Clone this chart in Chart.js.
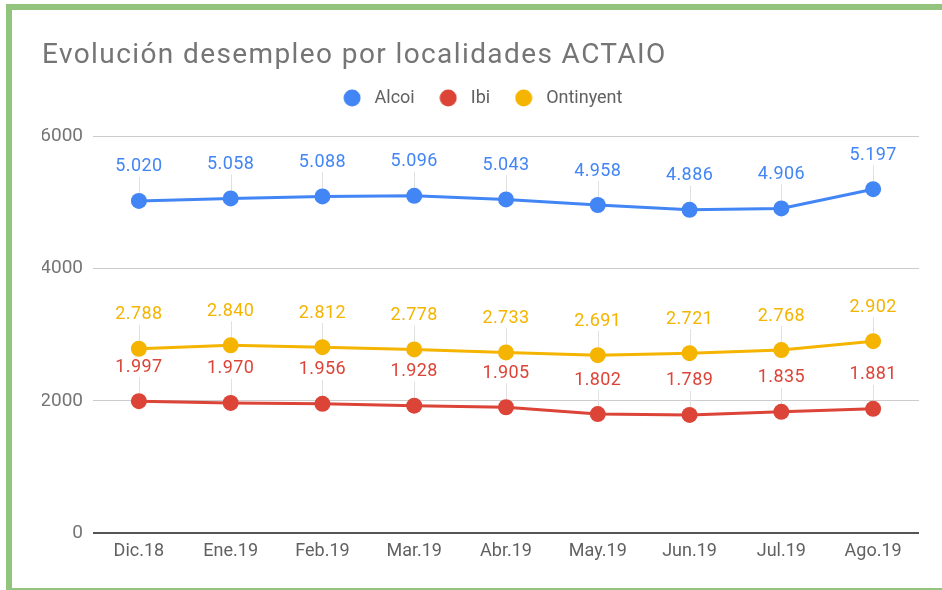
<!DOCTYPE html>
<html>
<head>
<meta charset="utf-8">
<script src="https://cdn.jsdelivr.net/npm/chart.js@4/dist/chart.umd.min.js"></script>
<style>
  html, body { margin: 0; padding: 0; background: #fff; }
  #wrap { position: relative; width: 942px; height: 590px; overflow: hidden; }
  #wrap canvas { position: absolute; left: 0; top: 0; }
  .bd { position: absolute; background: #93c47d; }
</style>
</head>
<body>
<div id="wrap">
  <canvas id="c" width="942" height="590"></canvas>
  <div class="bd" style="left:6px;top:4px;width:936px;height:6px;"></div>
  <div class="bd" style="left:6px;top:4px;width:6px;height:586px;"></div>
  <div class="bd" style="left:6px;top:588px;width:936px;height:2px;"></div>
</div>
<script>
const categories = ["Dic.18","Ene.19","Feb.19","Mar.19","Abr.19","May.19","Jun.19","Jul.19","Ago.19"];
const alcoi = [5020,5058,5088,5096,5043,4958,4886,4906,5197];
const ibi = [1997,1970,1956,1928,1905,1802,1789,1835,1881];
const ontinyent = [2788,2840,2812,2778,2733,2691,2721,2768,2902];
const yTicks = [0,2000,4000,6000];
const titleText = "Evolución desempleo por localidades ACTAIO";

const FONT = "Roboto";

function fmt(v) {
  return String(v).replace(/\B(?=(\d{3})+(?!\d))/g, ".");
}

function circleImg(color) {
  const c = document.createElement('canvas');
  c.width = 18; c.height = 18;
  const x = c.getContext('2d');
  x.fillStyle = color;
  x.beginPath();
  x.arc(9, 9, 8.5, 0, Math.PI * 2);
  x.fill();
  return c;
}

const titlePlugin = {
  id: 'ownTitle',
  afterDraw(chart) {
    const ctx = chart.ctx;
    ctx.save();
    ctx.font = "28px " + FONT;
    ctx.fillStyle = '#757575';
    ctx.textAlign = 'left';
    ctx.textBaseline = 'alphabetic';
    ctx.letterSpacing = '1.4px';
    ctx.fillText(titleText, 42, 63);
    ctx.restore();
  }
};

const legendSpace = {
  id: 'legendSpace',
  beforeInit(chart) {
    const orig = chart.legend.fit;
    chart.legend.fit = function () {
      orig.call(this);
      this.height += 19;
    };
  }
};

const labelPlugin = {
  id: 'pointLabels',
  beforeDatasetsDraw(chart) {
    const ctx = chart.ctx;
    ctx.save();
    ctx.strokeStyle = '#e0e0e0';
    ctx.lineWidth = 1;
    chart.data.datasets.forEach((ds, i) => {
      const meta = chart.getDatasetMeta(i);
      meta.data.forEach(pt => {
        ctx.beginPath();
        ctx.moveTo(Math.round(pt.x) + 0.5, pt.y - 24);
        ctx.lineTo(Math.round(pt.x) + 0.5, pt.y);
        ctx.stroke();
      });
    });
    ctx.restore();
  },
  afterDatasetsDraw(chart) {
    const ctx = chart.ctx;
    ctx.save();
    ctx.font = "18px " + FONT;
    ctx.textAlign = 'center';
    ctx.textBaseline = 'middle';
    ctx.letterSpacing = '0.4px';
    chart.data.datasets.forEach((ds, i) => {
      const meta = chart.getDatasetMeta(i);
      ctx.fillStyle = ds.borderColor;
      meta.data.forEach((pt, j) => {
        ctx.fillText(fmt(ds.data[j]), pt.x, pt.y - 34);
      });
    });
    ctx.restore();
  }
};

const mk = (label, data, color) => ({
  label, data,
  borderColor: color, backgroundColor: color,
  pointBackgroundColor: color, pointBorderColor: color,
  borderWidth: 3, pointRadius: 8, pointHoverRadius: 8, pointBorderWidth: 0,
  tension: 0
});

new Chart(document.getElementById('c'), {
  type: 'line',
  data: {
    labels: categories,
    datasets: [
      mk('Alcoi', alcoi, '#4285f4'),
      mk('Ibi', ibi, '#db4437'),
      mk('Ontinyent', ontinyent, '#f4b400')
    ]
  },
  plugins: [legendSpace, labelPlugin, titlePlugin],
  options: {
    responsive: false,
    animation: false,
    layout: { padding: { left: 42, right: 23, top: 69, bottom: 21 } },
    plugins: {
      title: { display: false },
      legend: {
        display: true, position: 'top', align: 'center',
        labels: {
          usePointStyle: true,
          pointStyleWidth: 27, boxHeight: 18,
          color: '#616161',
          font: { family: FONT, size: 18 },
          padding: 20,
          generateLabels(chart) {
            const items = Chart.defaults.plugins.legend.labels.generateLabels(chart);
            items.forEach(it => {
              const ds = chart.data.datasets[it.datasetIndex];
              it.pointStyle = circleImg(ds.borderColor);
            });
            return items;
          }
        }
      },
      tooltip: { enabled: false }
    },
    scales: {
      x: {
        offset: true,
        grid: { display: false, drawTicks: false },
        border: { display: false },
        ticks: { color: '#616161', font: { family: FONT, size: 18 }, padding: 7, maxRotation: 0, autoSkip: false }
      },
      y: {
        min: 0, max: 6000,
        afterBuildTicks(scale) { scale.ticks = yTicks.map(v => ({ value: v })); },
        afterFit(scale) { scale.width = 51; },
        grid: {
          drawTicks: false,
          color: ctx => ctx.tick && ctx.tick.value === 0 ? '#555555' : '#cccccc',
          lineWidth: ctx => ctx.tick && ctx.tick.value === 0 ? 2 : 1
        },
        border: { display: false },
        ticks: { color: '#757575', font: { family: FONT, size: 19 }, padding: 10, callback: v => String(v) }
      }
    }
  }
});
</script>
</body>
</html>
